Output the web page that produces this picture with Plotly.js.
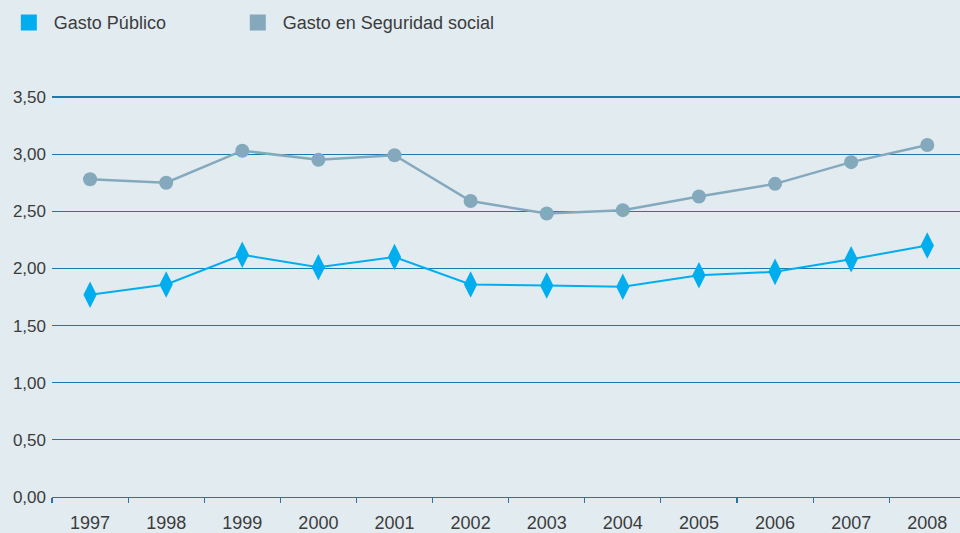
<!DOCTYPE html>
<html><head><meta charset="utf-8">
<script src="https://cdn.plot.ly/plotly-3.0.1.min.js"></script>
<style>html,body{margin:0;padding:0;background:#e1ebf0;}#chart{width:960px;height:533px;}</style>
</head><body><div id="chart"></div>
<script>
const years = ['1997','1998','1999','2000','2001','2002','2003','2004','2005','2006','2007','2008'];
const gastoPublico = [1.77, 1.86, 2.12, 2.01, 2.10, 1.86, 1.85, 1.84, 1.94, 1.97, 2.08, 2.20];
const gastoSeguridad = [2.78, 2.75, 3.03, 2.95, 2.99, 2.59, 2.48, 2.51, 2.63, 2.74, 2.93, 3.08];
const yTicks = [0, 0.5, 1, 1.5, 2, 2.5, 3, 3.5];

const blue = '#00aeef', gray = '#84a9bd', grid = '#1b79ad';
const traces = [
  {x: years, y: gastoSeguridad, mode: 'lines+markers', showlegend: false,
   line: {color: gray, width: 2.5}, marker: {symbol: 'circle', size: 14, color: gray}},
  {x: years, y: gastoPublico, mode: 'lines+markers', showlegend: false,
   line: {color: blue, width: 2}, marker: {symbol: 'diamond-tall', size: 19, color: blue}},
  {x: [null], y: [null], mode: 'markers', name: 'Gasto Público', legend: 'legend',
   marker: {symbol: 'square', size: 16, color: blue}},
  {x: [null], y: [null], mode: 'markers', name: 'Gasto en Seguridad social', legend: 'legend2',
   marker: {symbol: 'square', size: 16, color: gray}}
];
const legendBase = {orientation: 'h', xref: 'container', yref: 'container', y: 0.992,
    xanchor: 'left', yanchor: 'top', itemwidth: 40,
    font: {size: 18, color: '#3c3c3c'}, bgcolor: 'rgba(0,0,0,0)'};
const layout = {
  width: 960, height: 533,
  paper_bgcolor: '#e1ebf0', plot_bgcolor: '#e1ebf0',
  margin: {l: 52, r: 0, t: 95, b: 36},
  separators: ',.',
  font: {family: 'Liberation Sans, Arial, sans-serif', color: '#3c3c3c', size: 18},
  showlegend: true,
  legend: Object.assign({}, legendBase, {x: 0.004}),
  legend2: Object.assign({}, legendBase, {x: 0.2425}),
  xaxis: {type: 'category', range: [-0.5, 11.43], tickson: 'boundaries',
    ticks: 'outside', ticklen: 5, tickcolor: grid, tickwidth: 1.2,
    showline: true, linecolor: grid, linewidth: 1.2, showgrid: false,
    tickfont: {size: 18, color: '#3c3c3c'}, ticklabelstandoff: 9, fixedrange: true},
  yaxis: {range: [0, 3.5175], tickvals: yTicks, tickformat: '.2f',
    showgrid: true, gridcolor: grid, gridwidth: 1.2, zeroline: true, zerolinecolor: grid,
    zerolinewidth: 1.2, showline: false, ticks: '', ticklabelstandoff: 5,
    tickfont: {size: 17, color: '#3c3c3c'}, fixedrange: true}
};
Plotly.newPlot('chart', traces, layout, {displayModeBar: false, staticPlot: true});
</script></body></html>
